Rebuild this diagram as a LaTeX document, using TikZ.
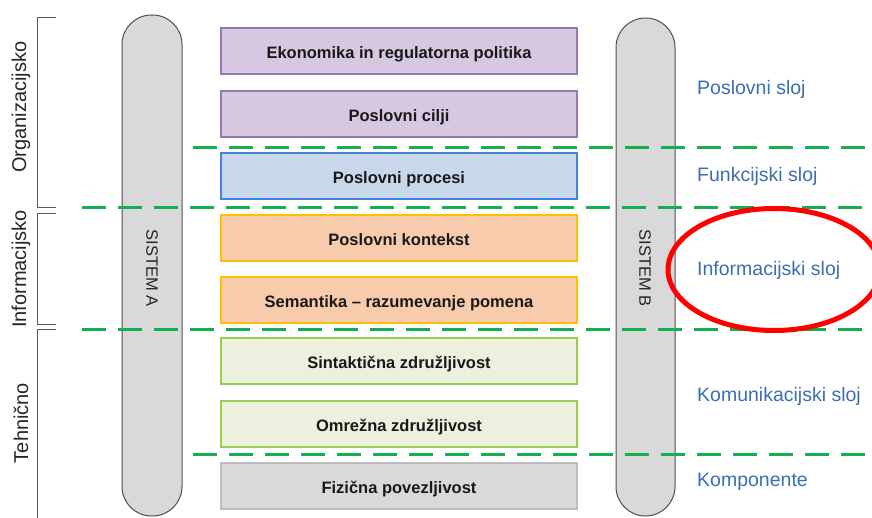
\documentclass[tikz,border=0pt]{standalone}
\usepackage{fontspec}
\setmainfont{Liberation Sans}
\usetikzlibrary{shapes.geometric}
\definecolor{purpfill}{RGB}{214,200,225}
\definecolor{purpdraw}{RGB}{150,120,180}
\definecolor{bluefill}{RGB}{200,215,234}
\definecolor{bluedraw}{RGB}{70,130,220}
\definecolor{orfill}{RGB}{248,203,173}
\definecolor{ordraw}{RGB}{255,192,0}
\definecolor{grfill}{RGB}{235,241,222}
\definecolor{grdraw}{RGB}{146,208,80}
\definecolor{gyfill}{RGB}{217,217,217}
\definecolor{gydraw}{RGB}{190,190,190}
\definecolor{dashgreen}{RGB}{20,175,80}
\definecolor{labelblue}{RGB}{60,110,180}
\definecolor{pillfill}{RGB}{217,217,217}
\definecolor{pilldraw}{RGB}{80,80,80}
\tikzset{
  layerbox/.style={draw, line width=2pt, minimum width=356pt, minimum height=46pt,
    inner sep=0pt, text height=15pt, text depth=0pt,
    font=\fontsize{16.5}{18}\selectfont\bfseries, text=black!90},
  pill/.style={draw=pilldraw, fill=pillfill, line width=1pt, rounded corners=29.5pt},
  sep/.style={draw=dashgreen, line width=3pt, dash pattern=on 24pt off 12pt},
  sidelabel/.style={font=\fontsize{19.5}{22}\selectfont, text=labelblue, anchor=west, inner sep=0pt},
  grouplabel/.style={font=\fontsize{20}{22}\selectfont, text=black!85, rotate=90, inner sep=0pt},
  pilllabel/.style={font=\fontsize{16.5}{18}\selectfont, text=black!85, rotate=-90, inner sep=0pt},
  bracket/.style={draw=black!65, line width=1pt}
}
\begin{document}
\begin{tikzpicture}[x=1pt,y=-1pt]
\useasboundingbox (0,0) rectangle (872,517);
\clip (0,0) rectangle (872,517);
\fill[white] (0,0) rectangle (872,517);
% pills
\draw[pill] (122,15) rectangle (182,516);
\draw[pill] (616,18) rectangle (675,516);
\node[pilllabel] (sa) at (152,268) {SISTEM A};
\node[pilllabel] (sb) at (645,268) {SISTEM B};
% boxes
\node[layerbox, fill=purpfill, draw=purpdraw] (b1) at (399,51) {Ekonomika in regulatorna politika};
\node[layerbox, fill=purpfill, draw=purpdraw] (b2) at (399,114) {Poslovni cilji};
\node[layerbox, fill=bluefill, draw=bluedraw] (b3) at (399,176) {Poslovni procesi};
\node[layerbox, fill=orfill, draw=ordraw] (b4) at (399,237.5) {Poslovni kontekst};
\node[layerbox, fill=orfill, draw=ordraw] (b5) at (399,300) {Semantika -- razumevanje pomena};
\node[layerbox, fill=grfill, draw=grdraw] (b6) at (399,361) {Sintaktična združljivost};
\node[layerbox, fill=grfill, draw=grdraw] (b7) at (399,423.5) {Omrežna združljivost};
\node[layerbox, fill=gyfill, draw=gydraw] (b8) at (399,486) {Fizična povezljivost};
% dashed separators
\draw[sep] (193,147) -- (872,147);
\draw[sep] (82,207) -- (872,207);
\draw[sep] (82,329) -- (872,329);
\draw[sep] (193,454) -- (872,454);
% brackets
\draw[bracket] (56,17) -- (37,17) -- (37,207) -- (56,207);
\draw[bracket] (56,213) -- (37,213) -- (37,324) -- (56,324);
\draw[bracket] (56,329) -- (37,329) -- (37,520);
\node[grouplabel] (g1) at (21,107) {Organizacijsko};
\node[grouplabel] (g2) at (21,269) {Informacijsko};
\node[grouplabel] (g3) at (21,423) {Tehnično};
% right labels
\node[sidelabel] (l1) at (697,89) {Poslovni sloj};
\node[sidelabel] (l2) at (697,176) {Funkcijski sloj};
\node[sidelabel] (l3) at (697,270) {Informacijski sloj};
\node[sidelabel] (l4) at (697,396) {Komunikacijski sloj};
\node[sidelabel] (l5) at (697,482) {Komponente};
% red ellipse
\draw[red, line width=5pt] (774,269.5) ellipse [x radius=106, y radius=61];
\end{tikzpicture}
\end{document}
